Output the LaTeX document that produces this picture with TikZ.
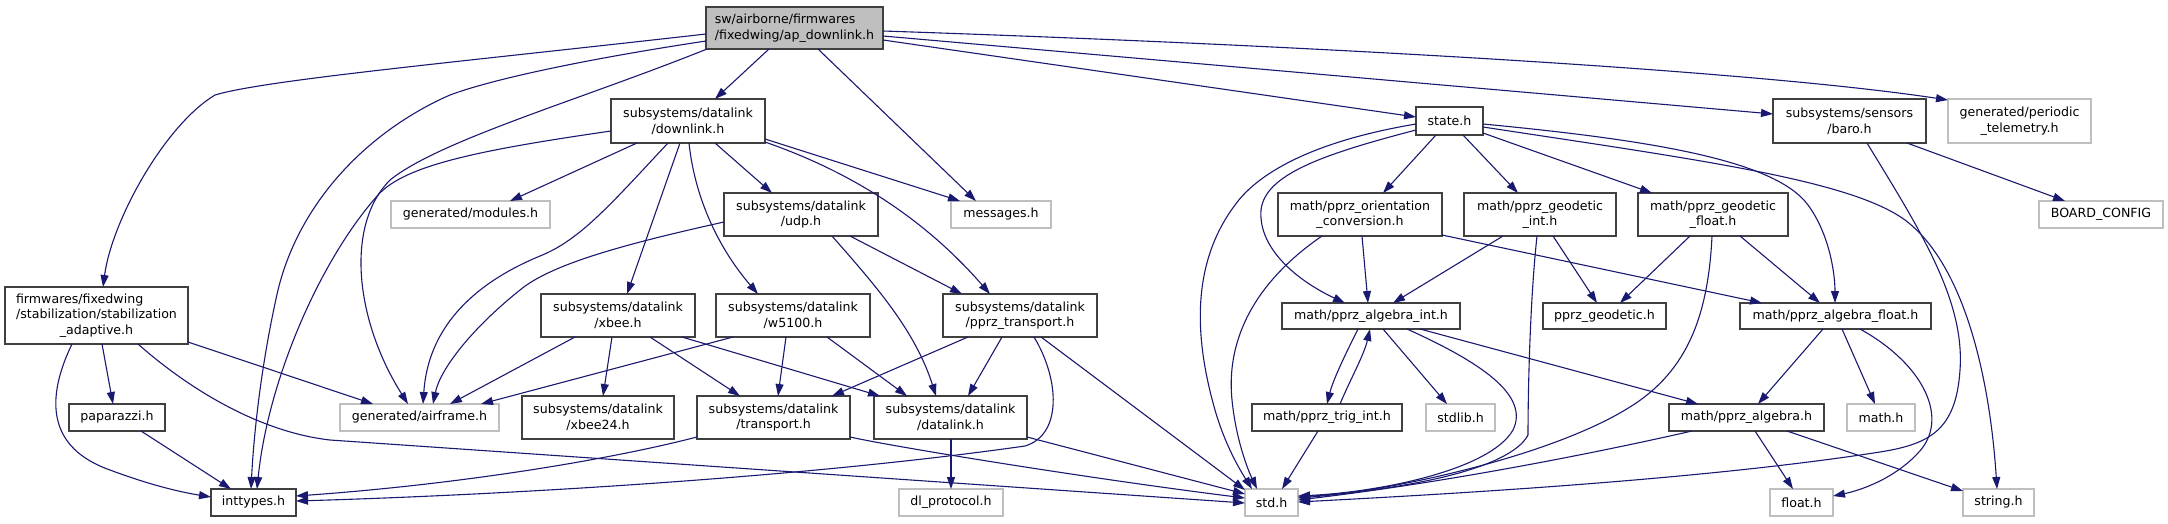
\documentclass[tikz,border=0pt]{standalone}
\usepackage{fontspec}
\setmainfont{DejaVu Sans}
\usetikzlibrary{arrows.meta,calc}
\definecolor{edgec}{HTML}{191970}
\definecolor{lgray}{HTML}{BFBFBF}
\definecolor{bdr}{HTML}{404040}
\tikzset{
  base/.style={rectangle, inner sep=0pt, align=center, font=\fontsize{12.6}{15.6}\selectfont, line width=1.3pt},
  nd/.style={base, draw=bdr, fill=white},
  gn/.style={base, draw=lgray, fill=white},
  rt/.style={base, draw=bdr, fill=lgray},
  e/.style={draw=edgec, line width=1.1pt, -{Triangle[length=12pt,width=8pt]}},
}
\newcommand\dnode[7]{%
  \pgfmathsetmacro\dnx{(#2+#4)/2}\pgfmathsetmacro\dny{(#3+#5)/2}%
  \pgfmathsetmacro\dnw{#4-#2}\pgfmathsetmacro\dnh{#5-#3}%
  \expandafter\xdef\csname cx@#1\endcsname{\dnx}%
  \expandafter\xdef\csname cy@#1\endcsname{\dny}%
  \node[#6, minimum width=\dnw pt, minimum height=\dnh pt] (#1) at (\dnx,\dny) {#7};}
\newcommand\pp[3]{($(#1)+({#2-\csname cx@#1\endcsname},{#3-\csname cy@#1\endcsname})$)}
\begin{document}
\begin{tikzpicture}[x=1pt,y=-1pt]
\useasboundingbox (0,0) rectangle (2168,523);
% nodes
\dnode{root}{706}{7}{883}{49}{rt}{\rlap{sw/airborne/firmwares}\phantom{/fixedwing/ap\_downlink.h}\\/fixedwing/ap\_downlink.h}
\dnode{downlink}{611}{99}{765}{143}{nd}{subsystems/datalink\\/downlink.h}
\dnode{state}{1416}{107}{1483}{135}{nd}{state.h}
\dnode{baro}{1773}{99}{1926}{143}{nd}{subsystems/sensors\\/baro.h}
\dnode{periodic}{1948}{99}{2091}{143}{gn}{generated/periodic\\\_telemetry.h}
\dnode{stab}{5}{287}{188}{344}{nd}{\rlap{firmwares/fixedwing}\phantom{/stabilization/stabilization}\\/stabilization/stabilization\\\_adaptive.h}
\dnode{modules}{391}{201}{550}{228}{gn}{generated/modules.h}
\dnode{udp}{724}{193}{878}{236}{nd}{subsystems/datalink\\/udp.h}
\dnode{messages}{951}{201}{1051}{228}{gn}{messages.h}
\dnode{orient}{1278}{193}{1442}{236}{nd}{math/pprz\_orientation\\\_conversion.h}
\dnode{geoint}{1464}{193}{1616}{236}{nd}{math/pprz\_geodetic\\\_int.h}
\dnode{geofloat}{1638}{193}{1788}{236}{nd}{math/pprz\_geodetic\\\_float.h}
\dnode{board}{2039}{201}{2163}{228}{gn}{BOARD\_CONFIG}
\dnode{xbee}{541}{294}{695}{337}{nd}{subsystems/datalink\\/xbee.h}
\dnode{w5100}{716}{294}{870}{337}{nd}{subsystems/datalink\\/w5100.h}
\dnode{ppt}{943}{294}{1097}{337}{nd}{subsystems/datalink\\/pprz\_transport.h}
\dnode{algint}{1282}{303}{1460}{329}{nd}{math/pprz\_algebra\_int.h}
\dnode{geodetic}{1543}{303}{1666}{329}{nd}{pprz\_geodetic.h}
\dnode{algfloat}{1740}{303}{1931}{329}{nd}{math/pprz\_algebra\_float.h}
\dnode{paparazzi}{69}{404}{165}{431}{nd}{paparazzi.h}
\dnode{airframe}{340}{404}{499}{431}{gn}{generated/airframe.h}
\dnode{xbee24}{522}{396}{674}{439}{nd}{subsystems/datalink\\/xbee24.h}
\dnode{transport}{697}{396}{850}{439}{nd}{subsystems/datalink\\/transport.h}
\dnode{datalink}{874}{396}{1027}{439}{nd}{subsystems/datalink\\/datalink.h}
\dnode{trig}{1252}{404}{1402}{431}{nd}{math/pprz\_trig\_int.h}
\dnode{stdlib}{1426}{404}{1495}{431}{gn}{stdlib.h}
\dnode{algebra}{1669}{404}{1824}{431}{nd}{math/pprz\_algebra.h}
\dnode{math}{1847}{404}{1915}{431}{gn}{math.h}
\dnode{inttypes}{211}{489}{296}{516}{nd}{inttypes.h}
\dnode{dlproto}{899}{489}{1003}{516}{gn}{dl\_protocol.h}
\dnode{std}{1245}{489}{1298}{516}{gn}{std.h}
\dnode{float}{1770}{489}{1833}{516}{gn}{float.h}
\dnode{string}{1963}{489}{2034}{516}{gn}{string.h}
% root edges
\draw[e] \pp{root}{706}{34} .. controls (450,63) and (265,80) .. (215,95) .. controls (165,125) and (112,220) .. \pp{stab}{103}{287};
\draw[e] \pp{root}{706}{41} .. controls (580,60) and (490,80) .. (450,95) .. controls (370,130) and (300,200) .. (278,290) .. controls (262,360) and (254,430) .. \pp{inttypes}{251}{489};
\draw[e] \pp{root}{707}{49} .. controls (580,100) and (440,140) .. (390,180) .. controls (345,225) and (355,320) .. \pp{airframe}{408}{404};
\draw[e] \pp{root}{769}{49} -- \pp{downlink}{715}{99};
\draw[e] \pp{root}{818}{49} -- \pp{messages}{976}{201};
\draw[e] \pp{root}{883}{40} -- \pp{state}{1416}{117};
\draw[e] \pp{root}{883}{36} -- \pp{baro}{1773}{114};
\draw[e] \pp{root}{883}{31} .. controls (1300,45) and (1750,70) .. \pp{periodic}{1948}{100};
% downlink edges
\draw[e] \pp{downlink}{611}{131} .. controls (480,150) and (405,165) .. (378,195) .. controls (320,260) and (268,380) .. \pp{inttypes}{257}{489};
\draw[e] \pp{downlink}{637}{143} -- \pp{modules}{510}{201};
\draw[e] \pp{downlink}{668}{143} .. controls (610,205) and (580,240) .. (540,256) .. controls (470,285) and (428,330) .. \pp{airframe}{423}{404};
\draw[e] \pp{downlink}{680}{143} -- \pp{xbee}{627}{294};
\draw[e] \pp{downlink}{689}{143} .. controls (695,200) and (720,250) .. \pp{w5100}{758}{294};
\draw[e] \pp{downlink}{715}{143} -- \pp{udp}{772}{193};
\draw[e] \pp{downlink}{765}{139} -- \pp{messages}{960}{201};
\draw[e] \pp{downlink}{765}{142} .. controls (860,175) and (930,225) .. \pp{ppt}{990}{294};
% udp
\draw[e] \pp{udp}{724}{222} .. controls (620,245) and (550,265) .. (520,290) .. controls (470,330) and (440,370) .. \pp{airframe}{433}{404};
\draw[e] \pp{udp}{850}{236} -- \pp{ppt}{962}{294};
\draw[e] \pp{udp}{832}{236} .. controls (875,285) and (915,330) .. \pp{datalink}{936}{396};
% xbee
\draw[e] \pp{xbee}{575}{337} -- \pp{airframe}{450}{404};
\draw[e] \pp{xbee}{612}{337} -- \pp{xbee24}{603}{396};
\draw[e] \pp{xbee}{650}{337} -- \pp{transport}{740}{396};
\draw[e] \pp{xbee}{682}{337} -- \pp{datalink}{880}{396};
% w5100
\draw[e] \pp{w5100}{733}{337} -- \pp{airframe}{481}{404};
\draw[e] \pp{w5100}{786}{337} -- \pp{transport}{778}{396};
\draw[e] \pp{w5100}{827}{337} -- \pp{datalink}{907}{396};
% pprz_transport
\draw[e] \pp{ppt}{968}{337} -- \pp{transport}{832}{396};
\draw[e] \pp{ppt}{1002}{337} -- \pp{datalink}{968}{396};
\draw[e] \pp{ppt}{1034}{337} .. controls (1060,380) and (1062,435) .. (1025,446) .. controls (800,478) and (500,495) .. \pp{inttypes}{296}{501};
\draw[e] \pp{ppt}{1041}{337} -- \pp{std}{1245}{490};
% transport, datalink
\draw[e] \pp{transport}{697}{437} .. controls (600,462) and (450,485) .. \pp{inttypes}{296}{496};
\draw[e] \pp{transport}{850}{437} .. controls (900,448) and (1100,480) .. \pp{std}{1245}{498};
\draw[e] \pp{datalink}{951}{439} -- \pp{dlproto}{951}{489};
\draw[e] \pp{datalink}{1027}{437} -- \pp{std}{1245}{494};
% stabilization
\draw[e] \pp{stab}{188}{342} -- \pp{airframe}{373}{404};
\draw[e] \pp{stab}{102}{344} -- \pp{paparazzi}{113}{404};
\draw[e] \pp{stab}{72}{344} .. controls (45,400) and (48,448) .. (110,470) .. controls (150,485) and (180,492) .. \pp{inttypes}{211}{497};
\draw[e] \pp{stab}{138}{344} .. controls (190,390) and (260,432) .. (330,440) -- \pp{std}{1245}{503};
\draw[e] \pp{paparazzi}{141}{431} -- \pp{inttypes}{231}{489};
% state
\draw[e] \pp{state}{1416}{124} .. controls (1320,140) and (1260,170) .. (1235,205) .. controls (1190,265) and (1195,340) .. (1215,410) .. controls (1225,445) and (1240,470) .. \pp{std}{1252}{489};
\draw[e] \pp{state}{1416}{130} .. controls (1320,155) and (1265,175) .. (1261,210) .. controls (1258,250) and (1300,282) .. \pp{algint}{1345}{303};
\draw[e] \pp{state}{1436}{135} -- \pp{orient}{1383}{193};
\draw[e] \pp{state}{1463}{135} -- \pp{geoint}{1518}{193};
\draw[e] \pp{state}{1483}{133} -- \pp{geofloat}{1652}{193};
\draw[e] \pp{state}{1483}{124} .. controls (1650,140) and (1775,160) .. (1808,205) .. controls (1830,235) and (1835,275) .. \pp{algfloat}{1835}{303};
\draw[e] \pp{state}{1483}{127} .. controls (1700,160) and (1850,180) .. (1905,220) .. controls (1965,265) and (1990,380) .. \pp{string}{1997}{489};
% orientation
\draw[e] \pp{orient}{1322}{236} .. controls (1265,275) and (1225,330) .. (1232,400) .. controls (1236,440) and (1248,470) .. \pp{std}{1257}{489};
\draw[e] \pp{orient}{1362}{236} -- \pp{algint}{1368}{303};
\draw[e] \pp{orient}{1442}{235} -- \pp{algfloat}{1762}{303};
% geodetic int / float
\draw[e] \pp{geoint}{1503}{236} -- \pp{algint}{1393}{303};
\draw[e] \pp{geoint}{1537}{236} .. controls (1530,300) and (1528,390) .. (1528,435) .. controls (1510,470) and (1400,490) .. \pp{std}{1298}{497};
\draw[e] \pp{geoint}{1553}{236} -- \pp{geodetic}{1597}{303};
\draw[e] \pp{geofloat}{1690}{236} -- \pp{geodetic}{1620}{303};
\draw[e] \pp{geofloat}{1712}{236} .. controls (1708,320) and (1685,375) .. (1625,410) .. controls (1550,455) and (1400,490) .. \pp{std}{1298}{498};
\draw[e] \pp{geofloat}{1740}{236} -- \pp{algfloat}{1820}{303};
% algebra int
\draw[e] \pp{algint}{1358}{329} .. controls (1345,355) and (1333,380) .. \pp{trig}{1327}{404};
\draw[e] \pp{trig}{1340}{404} .. controls (1350,380) and (1364,355) .. \pp{algint}{1370}{329};
\draw[e] \pp{algint}{1383}{329} -- \pp{stdlib}{1447}{404};
\draw[e] \pp{algint}{1407}{329} .. controls (1480,362) and (1530,395) .. (1513,430) .. controls (1490,470) and (1380,492) .. \pp{std}{1298}{496};
\draw[e] \pp{algint}{1420}{329} -- \pp{algebra}{1698}{404};
\draw[e] \pp{trig}{1318}{431} -- \pp{std}{1282}{489};
% algebra float
\draw[e] \pp{algfloat}{1823}{329} -- \pp{algebra}{1758}{404};
\draw[e] \pp{algfloat}{1842}{329} -- \pp{math}{1875}{404};
\draw[e] \pp{algfloat}{1860}{329} .. controls (1925,365) and (1950,420) .. (1918,453) .. controls (1895,478) and (1862,490) .. \pp{float}{1833}{496};
% algebra
\draw[e] \pp{algebra}{1692}{431} .. controls (1600,452) and (1450,482) .. \pp{std}{1298}{500};
\draw[e] \pp{algebra}{1755}{431} -- \pp{float}{1793}{489};
\draw[e] \pp{algebra}{1787}{431} -- \pp{string}{1963}{491};
% baro
\draw[e] \pp{baro}{1867}{143} .. controls (1920,230) and (1965,300) .. (1960,370) .. controls (1956,430) and (1930,444) .. (1880,452) .. controls (1700,480) and (1450,494) .. \pp{std}{1298}{502};
\draw[e] \pp{baro}{1907}{143} -- \pp{board}{2065}{201};
\end{tikzpicture}
\end{document}
